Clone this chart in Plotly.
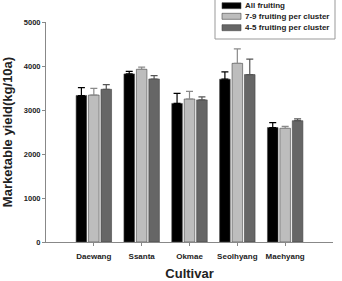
import plotly.graph_objects as go

cultivars = ["Daewang", "Ssanta", "Okmae", "Seolhyang", "Maehyang"]
all_fruiting = [3330, 3820, 3150, 3700, 2600]
all_fruiting_err = [180, 60, 230, 165, 115]
fruit_7_9 = [3340, 3925, 3250, 4060, 2585]
fruit_7_9_err = [150, 50, 175, 330, 45]
fruit_4_5 = [3470, 3705, 3230, 3805, 2757]
fruit_4_5_err = [105, 75, 70, 350, 40]

series = [
    ("All fruiting", all_fruiting, all_fruiting_err, "#000000", "#000000"),
    ("7-9 fruiting per cluster", fruit_7_9, fruit_7_9_err, "#bdbdbd", "#8a8a8a"),
    ("4-5 fruiting per cluster", fruit_4_5, fruit_4_5_err, "#666666", "#555555"),
]

W, H = 342, 281
ML, MR, MT, MB = 46, 9, 22, 39
PW, PH = W - ML - MR, H - MT - MB


def px(x):
    return (x - ML) / PW


def py(y):
    return (H - MB - y) / PH


fig = go.Figure()
for name, vals, errs, col, ecol in series:
    fig.add_trace(go.Bar(
        x=cultivars, y=vals, name=name, showlegend=False,
        marker=dict(color=col, line=dict(color="#444444", width=0.6)),
        error_y=dict(type="data", array=errs, symmetric=False, arrayminus=[0] * len(errs),
                     color=ecol, thickness=1.2, width=3.5),
    ))

shapes = []
annotations = []
# legend box
shapes.append(dict(type="rect", xref="paper", yref="paper",
                   x0=px(215), x1=px(335), y0=py(39), y1=py(-5),
                   line=dict(color="#999999", width=1), fillcolor="white", layer="above"))
rows = [5.7, 16.3, 27.7]
for (name, vals, errs, col, ecol), ry in zip(series, rows):
    shapes.append(dict(type="rect", xref="paper", yref="paper",
                       x0=px(222), x1=px(241), y0=py(ry + 3), y1=py(ry - 3),
                       line=dict(color="#444444", width=0.6), fillcolor=col, layer="above"))
    annotations.append(dict(xref="paper", yref="paper", x=px(243), y=py(ry),
                            xanchor="left", yanchor="middle", showarrow=False,
                            text="<b>" + name + "</b>",
                            font=dict(size=8, color="#222222", family="Liberation Sans, Arial")))

fig.update_layout(
    width=W, height=H,
    margin=dict(l=ML, r=MR, t=MT, b=MB, autoexpand=False),
    paper_bgcolor="white", plot_bgcolor="white",
    barmode="group", bargap=0.22, bargroupgap=0.15,
    font=dict(family="Liberation Sans, Arial", size=8, color="#222222"),
    showlegend=False,
    shapes=shapes, annotations=annotations,
    xaxis=dict(
        range=[-1, 5], showline=True, linecolor="#888888", linewidth=1,
        ticks="outside", ticklen=3, tickcolor="#888888",
        tickfont=dict(size=8, color="#222222"),
        tickprefix="<b>", ticksuffix="</b>", ticklabelstandoff=3,
        title=dict(text="<b>Cultivar</b>", font=dict(size=13, color="#222222"), standoff=14),
        showgrid=False, automargin=False,
    ),
    yaxis=dict(
        range=[0, 5000], dtick=1000, showline=True, linecolor="#888888", linewidth=1,
        ticks="outside", ticklen=3, tickcolor="#888888",
        tickfont=dict(size=7.5, color="#222222"),
        tickprefix="<b>", ticksuffix="</b>",
        title=dict(text="<b>Marketable yield(kg/10a)</b>", font=dict(size=13, color="#222222"), standoff=10),
        showgrid=False, zeroline=False, automargin=False,
    ),
)

fig.write_html("out.html")
